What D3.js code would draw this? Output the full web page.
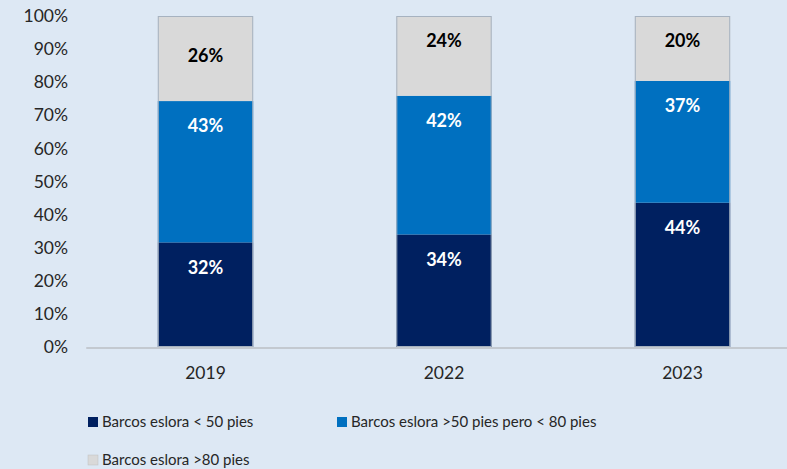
<!DOCTYPE html>
<html><head><meta charset="utf-8">
<script src="https://cdn.jsdelivr.net/npm/d3@7"></script>
<style>
html,body{margin:0;padding:0;background:#dde8f4;}
svg{display:block;font-family:Lato,"Open Sans",sans-serif;}
</style></head>
<body><div id="chart"></div>
<script>
const years = ["2019","2022","2023"];
const seriesNames = ["Barcos eslora < 50 pies","Barcos eslora >50 pies pero < 80 pies","Barcos eslora >80 pies"];
const small = [31.6, 34.0, 43.6];
const medium = [42.7, 41.9, 36.8];
const large = [25.7, 24.1, 19.6];
const yTicks = [0,10,20,30,40,50,60,70,80,90,100];
const colors = ["#002060","#0070c0","#d9d9d9"];
const labelColors = ["#ffffff","#ffffff","#000000"];

const W = 787, H = 469;
const svg = d3.select("#chart").append("svg").attr("width",W).attr("height",H);
svg.append("rect").attr("width",W).attr("height",H).attr("fill","#dde8f4");

const x = d3.scaleBand().domain(years).range([86.25, 801.75]).paddingInner(0.6).paddingOuter(0.3);
const y = d3.scaleLinear().domain([0,100]).range([347,16]);

const table = years.map((yr,i)=>({year:yr, s0:small[i], s1:medium[i], s2:large[i]}));
const stack = d3.stack().keys(["s0","s1","s2"])(table);

// y axis
const yAxis = d3.axisLeft(y).tickValues(yTicks).tickFormat(d=>d+"%").tickSize(0).tickPadding(0);
const ga = svg.append("g").attr("transform","translate(68,0)").call(yAxis);
ga.select(".domain").remove();
ga.selectAll("text").attr("font-size",17.5).attr("fill","#262626").attr("font-family","Lato,sans-serif");

// bars
stack.forEach((layer,k)=>{
  svg.append("g").selectAll("rect").data(layer).join("rect")
    .attr("x",d=>x(d.data.year))
    .attr("width",x.bandwidth())
    .attr("y",d=>y(d[1]))
    .attr("height",d=>y(d[0])-y(d[1]))
    .attr("fill",colors[k]);
});
// bar outline
svg.append("g").selectAll("rect").data(table).join("rect")
  .attr("x",d=>x(d.year)+0.5).attr("width",x.bandwidth()-1)
  .attr("y",y(100)+0.5).attr("height",y(0)-y(100)-1)
  .attr("fill","none").attr("stroke","#a6b2c0").attr("stroke-width",1);

// x axis baseline
const xAxis = d3.axisBottom(x).tickSize(0).tickPadding(20);
const gx = svg.append("g").attr("transform","translate(0,"+y(0)+")").call(xAxis);
gx.select(".domain").attr("stroke","#c3c9d0").attr("stroke-width",2).attr("d","M86.25,1H787");
gx.selectAll("text").attr("font-size",17.5).attr("fill","#262626").attr("font-family","Lato,sans-serif");

// labels
stack.forEach((layer,k)=>{
  svg.append("g").selectAll("text").data(layer).join("text")
    .attr("x",d=>x(d.data.year)+x.bandwidth()/2)
    .attr("y",d=>y(d[1]) + 25 + ((k===2 && d.data.year==="2019")?15:0))
    .attr("dy","0.35em")
    .attr("text-anchor","middle")
    .attr("font-size",18).attr("font-weight","bold")
    .attr("fill",labelColors[k])
    .text(d=>Math.round(d[1]-d[0])+"%");
});

// legend
const legPos = [[88,422],[337,422],[88,460]];
const lg = svg.append("g");
seriesNames.forEach((n,i)=>{
  const g = lg.append("g").attr("transform",`translate(${legPos[i][0]},${legPos[i][1]})`);
  g.append("rect").attr("x",0).attr("y",-5).attr("width",10).attr("height",10).attr("fill",colors[i])
   .attr("stroke", i===2?"#bfbfbf":"none").attr("stroke-width",0.5);
  g.append("text").attr("x",14).attr("y",0).attr("dy","0.35em").attr("font-size",15)
   .attr("fill","#262626").text(n);
});
</script></body></html>
